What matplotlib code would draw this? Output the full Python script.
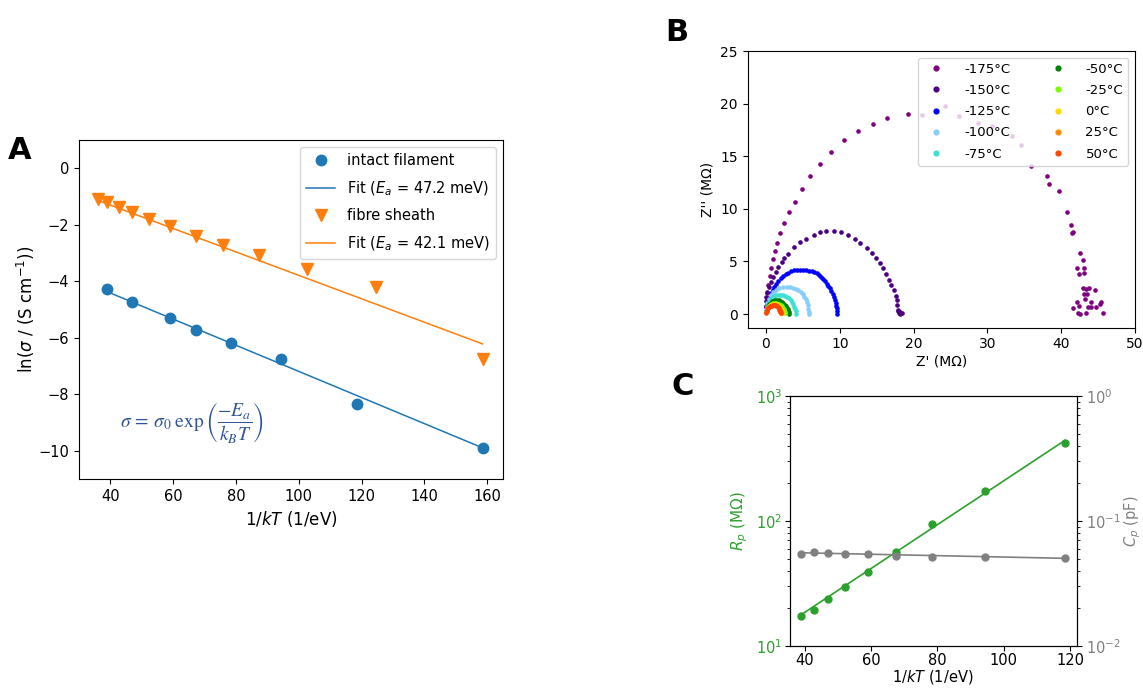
import numpy as np
import matplotlib
matplotlib.use("Agg")
import matplotlib.pyplot as plt

plt.rcParams['font.family'] = ['DejaVu Sans']
plt.rcParams['mathtext.fontset'] = 'dejavusans'

# ---------------- panel A: Arrhenius plot ----------------
inv_kT_filament = [39.0, 47.0, 59.0, 67.4, 78.4, 94.5, 118.4, 158.5]
ln_sigma_filament = [-4.29, -4.73, -5.32, -5.73, -6.18, -6.76, -8.35, -9.92]
fit_filament_x = [39.0, 158.5]
fit_filament_y = [-4.37, -9.90]

inv_kT_sheath = [36.1, 39.0, 42.7, 47.0, 52.2, 59.0, 67.4, 76.0, 87.3, 102.7, 124.6, 158.5]
ln_sigma_sheath = [-1.08, -1.21, -1.38, -1.55, -1.78, -2.06, -2.40, -2.73, -3.07, -3.56, -4.21, -6.76]
fit_sheath_x = [36.1, 158.5]
fit_sheath_y = [-1.14, -6.22]

legend_a = ['intact filament', r'Fit ($E_a$ = 47.2 meV)', 'fibre sheath', r'Fit ($E_a$ = 42.1 meV)']

# ---------------- panel B: Nyquist plots ----------------
temps = ['-175°C', '-150°C', '-125°C', '-100°C', '-75°C',
         '-50°C', '-25°C', '0°C', '25°C', '50°C']
temp_colors = ['purple', 'indigo', 'blue', 'lightskyblue', 'turquoise',
               'green', 'lawngreen', 'gold', 'darkorange', 'orangered']

z_m175 = [(0.02, 0.3), (0.05, 0.7), (0.08, 1.1), (0.12, 1.5), (0.18, 1.99), (0.32, 2.8),
          (0.5, 3.6), (0.68, 4.4), (0.95, 5.19), (1.2, 5.98), (1.5, 6.8), (1.85, 7.7),
          (2.49, 8.61), (3.07, 9.69), (3.97, 10.67), (4.88, 11.87), (5.96, 13.08),
          (7.36, 14.31), (8.85, 15.36), (10.61, 16.5), (12.42, 17.41), (14.5, 18.02),
          (16.4, 18.65), (19.2, 19.06), (21.1, 18.9), (24.2, 19.75), (26.15, 18.83),
          (28.7, 18.2), (30.6, 17.9), (33.3, 16.9), (34.6, 16.1), (35.9, 14.1),
          (38.07, 13.1), (38.4, 12.4), (39.7, 11.7), (40.74, 9.69), (41.33, 8.46),
          (41.64, 7.82), (41.5, 7.66), (42.6, 5.81), (42.9, 5.13), (42.14, 4.4),
          (43.1, 4.4), (42.37, 3.77), (43.04, 3.87), (43.0, 2.5), (43.4, 2.37),
          (43.8, 2.5), (44.6, 2.25), (43.1, 1.9), (43.5, 1.93), (43.2, 1.42),
          (44.1, 1.11), (45.4, 1.17), (45.2, 0.92), (42.14, 1.11), (42.46, 0.79),
          (41.64, 0.6), (43.6, 0.67), (44.0, 0.67), (44.7, 0.63), (42.3, 0.09),
          (42.5, 0.0), (43.4, 0.06), (45.6, 0.06)]
z_m150 = [(0.0, 0.3), (0.0, 0.8), (0.0, 1.2), (0.02, 1.65), (0.18, 2.12), (0.41, 2.59),
          (0.68, 3.07), (0.99, 3.55), (1.35, 4.02), (1.67, 4.5), (2.12, 4.97),
          (2.5, 5.35), (2.94, 5.7), (3.79, 6.33), (4.61, 6.81), (5.42, 7.12),
          (6.46, 7.5), (7.36, 7.78), (8.18, 7.91), (9.17, 7.91), (10.16, 7.78),
          (11.11, 7.53), (12.01, 7.18), (12.78, 6.8), (13.64, 6.27), (14.32, 5.79),
          (14.9, 5.32), (15.4, 4.85), (15.8, 4.37), (16.3, 3.83), (16.7, 3.26),
          (17.0, 2.78), (17.3, 2.31), (17.6, 1.74), (17.7, 1.3), (17.8, 0.89),
          (17.9, 0.41), (18.0, 0.1), (18.2, 0.15), (18.4, 0.1), (17.95, 0.3), (18.1, 0.05)]
z_m125 = [(0.05, 0.3), (0.1, 0.6), (0.18, 0.85), (0.32, 1.17), (0.48, 1.55), (0.68, 1.96),
          (0.9, 2.3), (1.13, 2.59), (1.4, 2.9), (1.67, 3.16), (2.0, 3.4), (2.3, 3.61),
          (2.65, 3.78), (3.03, 3.92), (3.4, 4.05), (3.79, 4.15), (4.2, 4.2), (4.61, 4.21),
          (5.02, 4.2), (5.42, 4.18), (5.8, 4.13), (6.19, 4.08), (6.55, 3.98), (6.87, 3.86),
          (7.17, 3.7), (7.45, 3.54), (7.73, 3.35), (8.0, 3.13), (8.23, 2.9), (8.44, 2.69),
          (8.65, 2.44), (8.85, 2.18), (9.02, 1.92), (9.17, 1.65), (9.32, 1.36),
          (9.44, 1.08), (9.52, 0.8), (9.58, 0.54), (9.63, 0.28), (9.66, 0.05)]
z_m100 = [(0.03, 0.3), (0.09, 0.7), (0.2, 1.01), (0.4, 1.4), (0.65, 1.8), (0.99, 2.12),
          (1.35, 2.32), (1.76, 2.44), (2.25, 2.53), (2.8, 2.56), (3.25, 2.55),
          (3.7, 2.5), (4.05, 2.4), (4.38, 2.28), (4.7, 2.1), (4.97, 1.9), (5.2, 1.66),
          (5.38, 1.42), (5.52, 1.14), (5.65, 0.85), (5.74, 0.52), (5.83, 0.22), (5.86, 0.05)]
z_m75 = [(0.03, 0.25), (0.1, 0.55), (0.2, 0.8), (0.35, 1.05), (0.5, 1.25), (0.7, 1.45),
         (0.9, 1.6), (1.15, 1.72), (1.4, 1.8), (1.7, 1.84), (2.0, 1.85), (2.3, 1.82),
         (2.6, 1.75), (2.85, 1.64), (3.1, 1.5), (3.35, 1.33), (3.55, 1.15), (3.72, 0.93),
         (3.85, 0.7), (3.96, 0.47), (4.05, 0.25), (4.1, 0.05)]
z_m50 = [(0.03, 0.2), (0.1, 0.42), (0.2, 0.6), (0.32, 0.8), (0.45, 0.95), (0.62, 1.1),
         (0.8, 1.2), (1.02, 1.29), (1.25, 1.33), (1.48, 1.33), (1.7, 1.3), (1.93, 1.24),
         (2.15, 1.15), (2.36, 1.03), (2.55, 0.9), (2.71, 0.75), (2.85, 0.6), (2.96, 0.45),
         (3.05, 0.3), (3.11, 0.15), (3.15, 0.04)]
z_m25 = [(0.03, 0.18), (0.1, 0.36), (0.2, 0.52), (0.32, 0.68), (0.45, 0.8), (0.62, 0.92),
         (0.8, 1.0), (1.0, 1.06), (1.2, 1.08), (1.4, 1.06), (1.6, 1.0), (1.8, 0.93),
         (2.0, 0.85), (2.15, 0.73), (2.3, 0.6), (2.42, 0.47), (2.5, 0.35), (2.56, 0.22),
         (2.6, 0.1)]
z_0 = [(0.03, 0.16), (0.1, 0.33), (0.2, 0.48), (0.32, 0.62), (0.45, 0.74), (0.6, 0.84),
       (0.78, 0.92), (0.96, 0.97), (1.14, 0.98), (1.32, 0.96), (1.5, 0.91), (1.67, 0.83),
       (1.83, 0.73), (1.97, 0.62), (2.09, 0.5), (2.19, 0.37), (2.26, 0.23), (2.3, 0.1)]
z_25 = [(0.03, 0.15), (0.1, 0.3), (0.2, 0.45), (0.32, 0.58), (0.45, 0.69), (0.6, 0.78),
        (0.76, 0.84), (0.92, 0.88), (1.08, 0.89), (1.24, 0.87), (1.4, 0.82), (1.55, 0.75),
        (1.69, 0.66), (1.81, 0.56), (1.92, 0.45), (2.0, 0.33), (2.06, 0.2), (2.1, 0.08)]
z_50 = [(0.03, 0.14), (0.1, 0.29), (0.2, 0.43), (0.32, 0.56), (0.45, 0.67), (0.6, 0.75),
        (0.75, 0.81), (0.9, 0.85), (1.05, 0.86), (1.2, 0.84), (1.35, 0.79), (1.49, 0.72),
        (1.62, 0.63), (1.73, 0.53), (1.83, 0.42), (1.9, 0.3), (1.95, 0.18), (1.98, 0.07)]
nyquist = [z_m175, z_m150, z_m125, z_m100, z_m75, z_m50, z_m25, z_0, z_25, z_50]

# ---------------- panel C: Rp and Cp ----------------
inv_kT_c = [39.0, 42.7, 47.0, 52.2, 59.0, 67.4, 78.4, 94.5, 118.4]
r_p = [17.4, 19.3, 23.6, 29.6, 39.3, 56.1, 94.0, 172.6, 418.0]
c_p = [0.0548, 0.0565, 0.0558, 0.0548, 0.0541, 0.0525, 0.0519, 0.0512, 0.0506]
fit_rp_x = [39.0, 118.4]
fit_rp_y = [17.8, 441.0]
fit_cp_x = [39.0, 118.4]
fit_cp_y = [0.0556, 0.0502]

fig = plt.figure(figsize=(11.43, 6.9), dpi=100)

# ---- A ----
axA = fig.add_axes([0.069, 0.306, 0.371, 0.491])
axA.plot(inv_kT_filament, ln_sigma_filament, 'o', color='tab:blue', ms=7.5, label=legend_a[0])
axA.plot(fit_filament_x, fit_filament_y, '-', color='tab:blue', lw=1.1, label=legend_a[1])
axA.plot(inv_kT_sheath, ln_sigma_sheath, 'v', color='tab:orange', ms=8, label=legend_a[2])
axA.plot(fit_sheath_x, fit_sheath_y, '-', color='tab:orange', lw=1.1, label=legend_a[3])
axA.set_xlim(30, 165)
axA.set_ylim(-11, 1)
axA.set_xticks([40, 60, 80, 100, 120, 140, 160])
axA.set_yticks([0, -2, -4, -6, -8, -10])
axA.tick_params(labelsize=10.5)
axA.set_xlabel(r'1/$kT$ (1/eV)', fontsize=12)
axA.set_ylabel(r'ln($\sigma$ / (S cm$^{-1}$))', fontsize=12, labelpad=1)
axA.legend(loc='upper right', fontsize=10.5, labelspacing=0.75)
axA.text(43, -9.0, r'$\sigma\,=\,\sigma_0\;\exp\left(\dfrac{-E_a}{k_BT}\right)$',
         fontsize=14, color='#2f5597', math_fontfamily='stix', ha='left', va='center')
fig.text(0.017, 0.782, 'A', fontsize=22, fontweight='bold', ha='center', va='center')

# ---- B ----
axB = fig.add_axes([0.654, 0.525, 0.339, 0.401])
for pts, lab, col in zip(nyquist, temps, temp_colors):
    zr = [p[0] for p in pts]
    zi = [p[1] for p in pts]
    axB.plot(zr, zi, 'o', ls='none', color=col, ms=2.3, label=lab)
axB.set_xlim(-2.5, 50)
axB.set_ylim(-1.3, 25)
axB.set_xticks([0, 10, 20, 30, 40, 50])
axB.set_yticks([0, 5, 10, 15, 20, 25])
axB.tick_params(labelsize=10)
axB.set_xlabel("Z' (MΩ)", fontsize=10, labelpad=2)
axB.set_ylabel("Z'' (MΩ)", fontsize=10)
axB.legend(loc='upper right', ncol=2, fontsize=9.5, markerscale=1.5,
           columnspacing=2.6, labelspacing=0.62, handletextpad=1.1)
fig.text(0.592, 0.953, 'B', fontsize=22, fontweight='bold', ha='center', va='center')

# ---- C ----
axC = fig.add_axes([0.691, 0.064, 0.251, 0.362])
axC.plot(fit_rp_x, fit_rp_y, '-', color='tab:green', lw=1.2)
axC.plot(inv_kT_c, r_p, 'o', color='tab:green', ms=5)
axC.set_yscale('log')
axC.set_ylim(10, 1000)
axC.set_xlim(35.5, 122)
axC.set_xticks([40, 60, 80, 100, 120])
axC.tick_params(labelsize=10.5, pad=2)
axC.tick_params(axis='y', which='both', labelcolor='tab:green')
axC.set_xlabel(r'1/$kT$ (1/eV)', fontsize=10.5, labelpad=0)
axC.set_ylabel(r'$R_p$ (MΩ)', fontsize=11, color='tab:green')

axC2 = axC.twinx()
axC2.plot(fit_cp_x, fit_cp_y, '-', color='grey', lw=1.2)
axC2.plot(inv_kT_c, c_p, 'o', color='grey', ms=5)
axC2.set_yscale('log')
axC2.set_ylim(0.01, 1)
axC2.tick_params(labelsize=10.5, labelcolor='grey')
axC2.set_ylabel(r'$C_p$ (pF)', fontsize=10.5, color='grey', labelpad=1)
fig.text(0.597, 0.44, 'C', fontsize=22, fontweight='bold', ha='center', va='center')

fig.savefig('out.png', dpi=100)
